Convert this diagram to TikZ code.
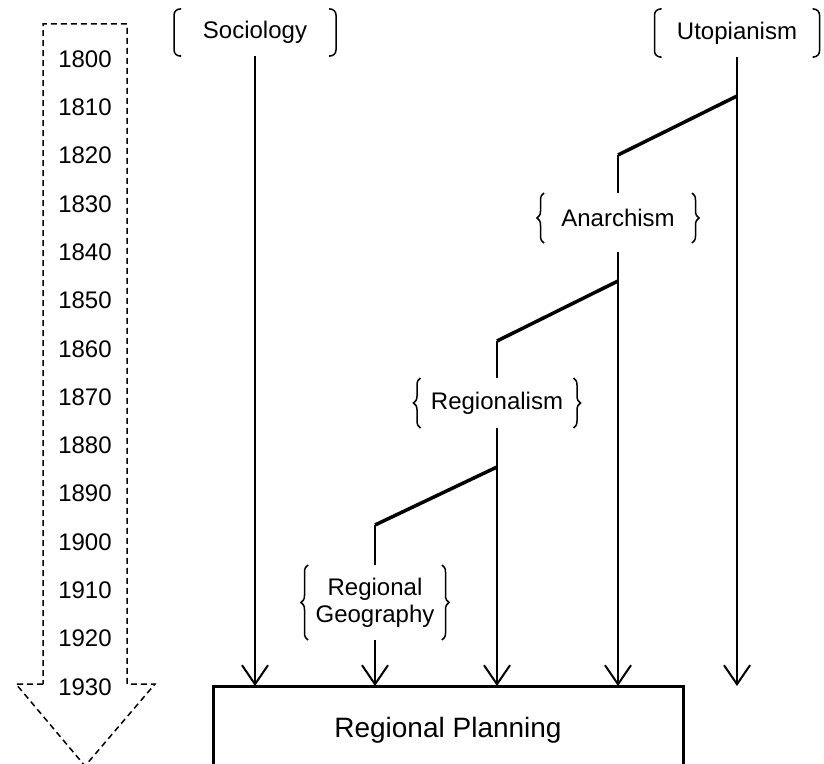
\documentclass[tikz,border=0pt]{standalone}
\usepackage{fontspec}
\setmainfont{Liberation Sans}
\usetikzlibrary{arrows.meta,decorations.pathreplacing}
\begin{document}
\begin{tikzpicture}[x=1bp,y=-1bp,
  lbl/.style={inner sep=0pt, outer sep=0pt, font=\fontsize{24bp}{27bp}\selectfont},
  year/.style={inner sep=0pt, font=\fontsize{24bp}{27bp}\selectfont},
  planbox/.style={draw, line width=3bp, inner xsep=0pt, inner ysep=31bp, outer sep=0pt,
    text height=20bp, text depth=60bp, font=\fontsize{28bp}{32bp}\selectfont},
  link/.style={line width=2bp},
  flow/.style={line width=2bp, -{Straight Barb[length=19bp,width=26bp]}},
  branch/.style={line width=3.5bp},
  bracket/.style={line width=1.5bp, rounded corners=6bp},
  curly/.style={line width=1.5bp, decorate, decoration={brace, amplitude=7bp}},
  timeline/.style={line width=1.5bp, dash pattern=on 6bp off 4bp}]
\useasboundingbox (0,0) rectangle (824,764);
\clip (0,0) rectangle (824,764);

% time axis: dashed block arrow with decade marks
\draw[timeline] (43,684) -- (16,684) -- (85,766) -- (155,684) -- (127,684)
  -- (127,24) -- (43,24) -- cycle;
\foreach \i in {0,...,13} {
  \pgfmathtruncatemacro\yr{1800+10*\i}
  \node[year] (y\yr) at (85,{59+48.3*\i}) {\yr};
}

% schools of thought
\node[lbl, minimum width=162bp, minimum height=47bp] (soc) at (255,32.5) {Sociology};
\node[lbl, minimum width=165bp, minimum height=48bp] (uto) at (737,33) {Utopianism};
\node[lbl, minimum width=148bp, minimum height=50bp] (ana) at (618,218) {Anarchism};
\node[lbl, minimum width=153bp, minimum height=50bp] (reg) at (497,403) {Regionalism};
\node[lbl, minimum width=134bp, minimum height=75bp, align=center] (geo) at (375,602.5) {Regional\\Geography};
\node[planbox, anchor=north, minimum width=470bp] (plan) at (448,686) {Regional Planning};

% rounded square brackets
\foreach \n in {soc,uto} {
  \draw[bracket] ([xshift=7bp]\n.north west) -- (\n.north west) -- (\n.south west) -- ([xshift=7bp]\n.south west);
  \draw[bracket] ([xshift=-7bp]\n.north east) -- (\n.north east) -- (\n.south east) -- ([xshift=-7bp]\n.south east);
}
% curly braces
\foreach \n in {ana,reg,geo} {
  \draw[curly] (\n.south west) -- (\n.north west);
  \draw[curly] (\n.north east) -- (\n.south east);
}

% branch points
\coordinate (b1) at (737,96);
\coordinate (k1) at (618,155);
\coordinate (b2) at (618,281);
\coordinate (k2) at (497,341);
\coordinate (b3) at (497,467);
\coordinate (k3) at (375,525);

% lines of influence
\draw[flow] (soc) -- (soc.south |- plan.north);
\draw[flow] (uto) -- (uto.south |- plan.north);
\draw[branch] (b1) -- (k1);
\draw[link] (k1) -- (ana.north);
\draw[flow] ([yshift=-9bp]ana.south) -- (ana.south |- plan.north);
\draw[branch] (b2) -- (k2);
\draw[link] (k2) -- (reg.north);
\draw[flow] (reg.south) -- (reg.south |- plan.north);
\draw[branch] (b3) -- (k3);
\draw[link] (k3) -- (geo.north);
\draw[flow] (geo.south) -- (geo.south |- plan.north);
\end{tikzpicture}
\end{document}
